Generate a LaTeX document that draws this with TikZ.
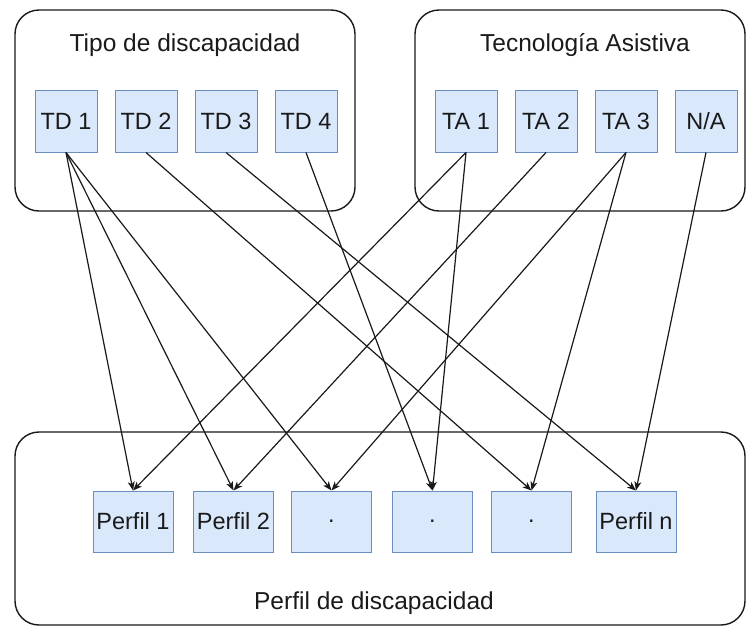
\documentclass[tikz,border=0pt]{standalone}
\usepackage{fontspec}
\setmainfont{Liberation Sans}
\usetikzlibrary{arrows.meta}
\definecolor{boxfill}{HTML}{DAE8FC}
\definecolor{boxline}{HTML}{6C8EBF}
\definecolor{txt}{HTML}{1A1A1A}
\tikzset{
  container/.style={draw=black!90, line width=1.4pt, rounded corners=24pt, inner sep=0pt},
  title/.style={text=txt, font=\fontsize{24.5}{29}\selectfont, inner sep=0pt},
  item/.style={draw=boxline, fill=boxfill, line width=1pt, text=txt, inner sep=0pt,
    font=\fontsize{23.5}{28}\selectfont},
  srcbox/.style={item, minimum width=62pt, minimum height=62pt},
  dstbox/.style={item, minimum width=80pt, minimum height=61pt},
  conn/.style={draw=black!90, line width=1.2pt, -{Stealth[length=9pt,width=7pt,inset=2.5pt]}}
}
\begin{document}
\begin{tikzpicture}[x=1pt,y=-1pt]
\useasboundingbox (0,0) rectangle (746,627);
% containers
\node[container, minimum width=340pt, minimum height=201pt] (c1) at (185,110.5) {};
\node[container, minimum width=330pt, minimum height=201pt] (c2) at (580,110.5) {};
\node[container, minimum width=730pt, minimum height=193pt] (c3) at (380,528.5) {};
\node[title] (t1) at (185,45) {Tipo de discapacidad};
\node[title] (t2) at (585,45) {Tecnología Asistiva};
\node[title] (t3) at (374,603) {Perfil de discapacidad};
% source boxes
\node[srcbox] (td1) at (66,121) {TD 1};
\node[srcbox] (td2) at (146,121) {TD 2};
\node[srcbox] (td3) at (226,121) {TD 3};
\node[srcbox] (td4) at (306,121) {TD 4};
\node[srcbox] (ta1) at (466,121) {TA 1};
\node[srcbox] (ta2) at (546,121) {TA 2};
\node[srcbox] (ta3) at (626,121) {TA 3};
\node[srcbox] (na) at (706,121) {N/A};
% destination boxes
\node[dstbox] (p1) at (133,521.5) {Perfil 1};
\node[dstbox] (p2) at (233.5,521.5) {Perfil 2};
\node[dstbox] (p3) at (331.5,521.5) {.};
\node[dstbox] (p4) at (432.5,521.5) {.};
\node[dstbox] (p5) at (531.5,521.5) {.};
\node[dstbox] (pn) at (636,521.5) {Perfil n};
% connectors
\draw[conn] (td1.south) -- (p1.north);
\draw[conn] (td1.south) -- (p2.north);
\draw[conn] (td1.south) -- (p3.north);
\draw[conn] (td2.south) -- (p5.north);
\draw[conn] (td3.south) -- (pn.north);
\draw[conn] (td4.south) -- (p4.north);
\draw[conn] (ta1.south) -- (p1.north);
\draw[conn] (ta1.south) -- (p4.north);
\draw[conn] (ta2.south) -- (p2.north);
\draw[conn] (ta3.south) -- (p3.north);
\draw[conn] (ta3.south) -- (p5.north);
\draw[conn] (na.south) -- (pn.north);
\end{tikzpicture}
\end{document}
